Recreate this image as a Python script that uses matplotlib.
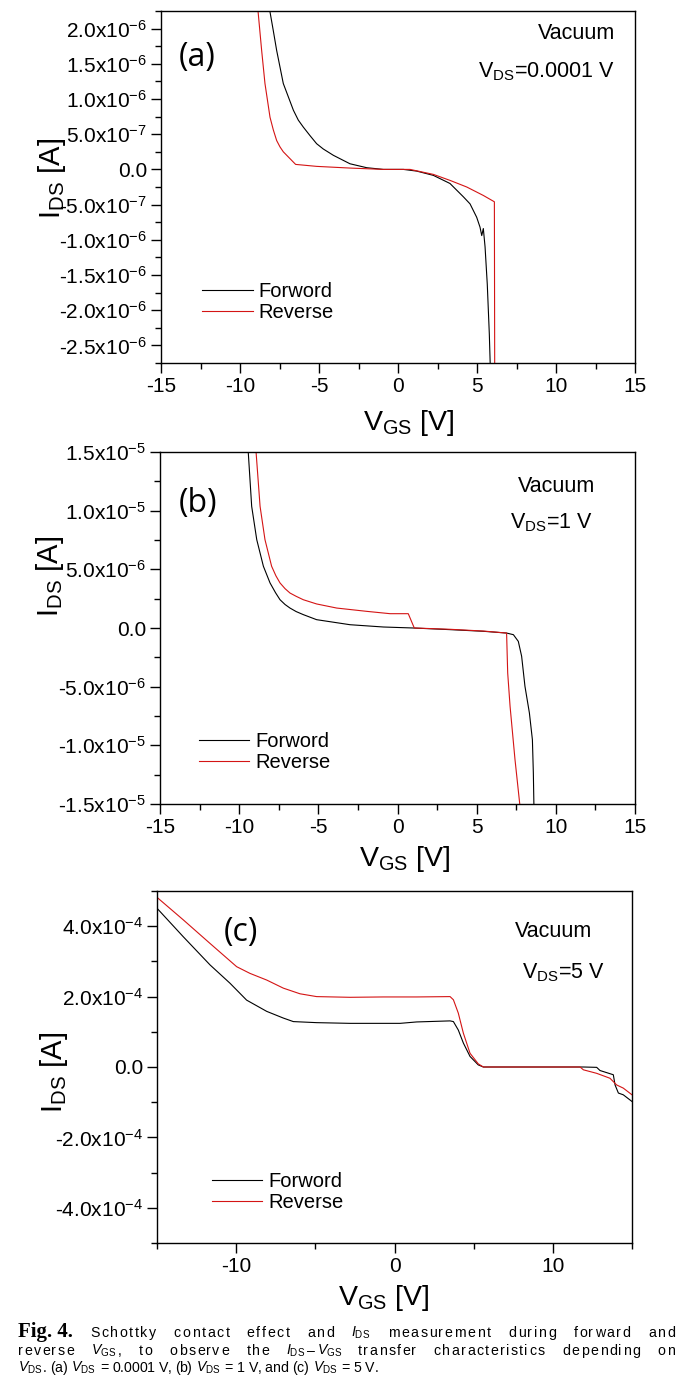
"""
    I_DS - V_GS transfer curves, forward and reverse sweeps (Fig. 4)
"""
import re
import numpy as np
import matplotlib.pyplot as plt
from matplotlib.ticker import MultipleLocator, FixedLocator, FixedFormatter

plt.rcParams['font.family'] = ['Liberation Sans', 'DejaVu Sans']
plt.rcParams['mathtext.fontset'] = 'custom'
plt.rcParams['mathtext.rm'] = 'Liberation Sans'
plt.rcParams['mathtext.it'] = 'Liberation Sans:italic'
plt.rcParams['mathtext.bf'] = 'Liberation Sans:bold'
plt.rcParams['axes.unicode_minus'] = False

# ---- data ----
# (a) VDS = 0.0001 V, current in 1e-6 A
va_fwd_v = [-8.15, -7.90, -7.68, -7.26, -6.94, -6.62, -6.31, -5.99, -5.57, -5.15, -4.73, -4.09,
            -3.04, -1.98, -0.93, 0.34, 1.18, 2.24, 3.29, 4.14, 4.56, 4.98, 5.19, 5.30, 5.40,
            5.51, 5.65, 5.78, 5.84]
va_fwd_i = [2.30, 1.98, 1.69, 1.22, 1.03, 0.84, 0.70, 0.60, 0.48, 0.365, 0.29, 0.20,
            0.08, 0.024, 0.0, 0.0, -0.024, -0.085, -0.20, -0.39, -0.49, -0.68, -0.82, -0.94, -0.84,
            -1.10, -1.63, -2.34, -2.80]
va_rev_v = [-8.88, -8.63, -8.42, -8.10, -7.89, -7.68, -7.47, -7.26, -6.48, -5.15, -3.04, -0.93,
            0.76, 2.24, 3.29, 4.35, 5.40, 6.10, 6.12]
va_rev_i = [2.30, 1.69, 1.22, 0.74, 0.56, 0.41, 0.32, 0.25, 0.071, 0.043, 0.019, 0.0,
            0.0, -0.071, -0.156, -0.25, -0.37, -0.46, -2.80]

# (b) VDS = 1 V, current in 1e-6 A
vb_fwd_v = [-9.45, -9.21, -8.89, -8.47, -8.05, -7.70, -7.42, -7.10, -6.79, -6.40, -5.95, -5.11,
            -3.0, -0.89, 1.0, 3.32, 5.42, 6.89, 7.32, 7.63, 7.84, 8.05, 8.33, 8.52, 8.58, 8.62]
vb_fwd_i = [15.5, 10.37, 7.53, 5.26, 3.84, 3.00, 2.41, 2.00, 1.70, 1.40, 1.14, 0.71,
            0.28, 0.085, 0.0, -0.14, -0.28, -0.43, -0.57, -1.14, -2.41, -4.97, -7.24, -9.52,
            -12.36, -15.5]
vb_rev_v = [-8.96, -8.68, -8.37, -7.95, -7.68, -7.42, -7.10, -6.79, -6.40, -5.95, -5.11, -3.84,
            -1.95, -0.47, 0.68, 1.06, 3.32, 5.42, 6.89, 6.96, 7.11, 7.42, 7.76]
vb_rev_i = [15.5, 10.37, 7.53, 5.26, 4.45, 3.84, 3.35, 2.98, 2.70, 2.41, 2.05, 1.70,
            1.42, 1.22, 1.22, 0.0, -0.11, -0.26, -0.43, -3.84, -6.68, -11.2, -15.5]

# (c) VDS = 5 V, current in 1e-4 A
vc_fwd_v = [-15, -13.34, -11.65, -10.39, -9.34, -8.07, -7.02, -6.39, -4.92, -2.81, -0.71, 0.35,
            1.40, 3.51, 3.72, 4.03, 4.35, 4.77, 5.29, 5.61, 7.72, 9.82, 11.93, 12.77, 12.98,
            13.82, 13.93, 14.14, 14.45, 15.0]
vc_fwd_i = [4.51, 3.70, 2.90, 2.38, 1.90, 1.58, 1.39, 1.29, 1.26, 1.24, 1.24, 1.24,
            1.28, 1.31, 1.29, 1.05, 0.68, 0.30, 0.06, 0.0, 0.0, 0.0, 0.0, -0.01, -0.10,
            -0.22, -0.51, -0.74, -0.79, -0.98]
vc_rev_v = [-15, -13.34, -11.65, -9.97, -9.13, -8.07, -7.02, -5.97, -4.92, -2.81, -0.71,
            1.40, 3.51, 3.72, 4.03, 4.35, 4.77, 5.29, 5.61, 11.72, 11.93, 12.77, 13.61,
            14.03, 14.45, 15.0]
vc_rev_i = [4.82, 4.18, 3.51, 2.85, 2.66, 2.47, 2.24, 2.08, 2.00, 1.98, 1.99,
            1.99, 2.00, 1.91, 1.53, 0.96, 0.39, 0.09, 0.0, 0.0, -0.08, -0.18, -0.32,
            -0.51, -0.60, -0.79]

# tick values and labels
a_yticks = [-2.5e-6, -2.0e-6, -1.5e-6, -1.0e-6, -5.0e-7, 0.0, 5.0e-7, 1.0e-6, 1.5e-6, 2.0e-6]
a_ylabels = ['-2.5x10$^{-6}$', '-2.0x10$^{-6}$', '-1.5x10$^{-6}$', '-1.0x10$^{-6}$', '-5.0x10$^{-7}$',
             '0.0', '5.0x10$^{-7}$', '1.0x10$^{-6}$', '1.5x10$^{-6}$', '2.0x10$^{-6}$']
b_yticks = [-1.5e-5, -1.0e-5, -5.0e-6, 0.0, 5.0e-6, 1.0e-5, 1.5e-5]
b_ylabels = ['-1.5x10$^{-5}$', '-1.0x10$^{-5}$', '-5.0x10$^{-6}$', '0.0',
             '5.0x10$^{-6}$', '1.0x10$^{-5}$', '1.5x10$^{-5}$']
c_yticks = [-4.0e-4, -2.0e-4, 0.0, 2.0e-4, 4.0e-4]
c_ylabels = ['-4.0x10$^{-4}$', '-2.0x10$^{-4}$', '0.0', '2.0x10$^{-4}$', '4.0x10$^{-4}$']
ab_xticks = [-15, -10, -5, 0, 5, 10, 15]
c_xticks = [-10, 0, 10]

FW = 689
FH = 1400
RED = '#d41414'
TICK_FS = 15


def fx(x):
    return x / FW


def fy(y):
    return 1 - y / FH


def make_axes(left, top, right, bottom):
    ax = fig.add_axes([fx(left), fy(bottom), (right - left) / FW, (bottom - top) / FH])
    for s in ax.spines.values():
        s.set_linewidth(1.0)
    ax.tick_params(which='both', direction='out', top=False, right=False, width=1.0,
                   labelsize=TICK_FS, pad=3)
    ax.tick_params(which='major', length=7)
    ax.tick_params(which='minor', length=4)
    return ax


def panel(ax, fv, fi, rv, ri, scale, legend_xy):
    ax.plot(fv, np.array(fi) * scale, color='black', lw=0.8, label='Forword')
    ax.plot(rv, np.array(ri) * scale, color=RED, lw=0.8, label='Reverse')
    ax.set_xlim(-15, 15)
    ax.legend(loc='upper left', bbox_to_anchor=legend_xy, frameon=False, borderpad=0,
              borderaxespad=0, handlelength=2.5, handletextpad=0.3, labelspacing=0.12,
              fontsize=14.5)


fig = plt.figure(figsize=(FW / 100, FH / 100), dpi=100)

# ---- (a) ----
ax_a = make_axes(161, 11, 635, 363)
panel(ax_a, va_fwd_v, va_fwd_i, va_rev_v, va_rev_i, 1e-6, (0.087, 0.230))
ax_a.set_ylim(-2.75e-6, 2.25e-6)
ax_a.yaxis.set_major_locator(FixedLocator(a_yticks))
ax_a.yaxis.set_major_formatter(FixedFormatter(a_ylabels))
ax_a.yaxis.set_minor_locator(MultipleLocator(2.5e-7))
ax_a.xaxis.set_major_locator(FixedLocator(ab_xticks))
ax_a.xaxis.set_minor_locator(MultipleLocator(2.5))
ax_a.text(0.076, 0.869, '(a)', transform=ax_a.transAxes, ha='center', va='center',
          fontsize=23, family=['Open Sans', 'DejaVu Sans'])
ax_a.text(0.958, (363 - 39) / 352, 'Vacuum', transform=ax_a.transAxes, ha='right',
          va='baseline', fontsize=15.5)
ax_a.text(0.958, (363 - 77) / 352, r'V$_{\mathrm{DS}}$=0.0001 V', transform=ax_a.transAxes,
          ha='right', va='baseline', fontsize=15.5)

# ---- (b) ----
ax_b = make_axes(160, 452, 635, 804)
panel(ax_b, vb_fwd_v, vb_fwd_i, vb_rev_v, vb_rev_i, 1e-6, (0.082, 0.2045))
ax_b.set_ylim(-1.5e-5, 1.5e-5)
ax_b.yaxis.set_major_locator(FixedLocator(b_yticks))
ax_b.yaxis.set_major_formatter(FixedFormatter(b_ylabels))
ax_b.yaxis.set_minor_locator(MultipleLocator(2.5e-6))
ax_b.xaxis.set_major_locator(FixedLocator(ab_xticks))
ax_b.xaxis.set_minor_locator(MultipleLocator(2.5))
ax_b.text(0.080, 0.855, '(b)', transform=ax_b.transAxes, ha='center', va='center',
          fontsize=23, family=['Open Sans', 'DejaVu Sans'])
ax_b.text((557 - 160) / 475, (804 - 492) / 352, 'Vacuum', transform=ax_b.transAxes,
          ha='center', va='baseline', fontsize=15.5)
ax_b.text((551 - 160) / 475, (804 - 528) / 352, r'V$_{\mathrm{DS}}$=1 V', transform=ax_b.transAxes,
          ha='center', va='baseline', fontsize=15.5)

# ---- (c) ----
ax_c = make_axes(157, 891, 632, 1243)
panel(ax_c, vc_fwd_v, vc_fwd_i, vc_rev_v, vc_rev_i, 1e-4, (0.116, 0.2017))
ax_c.set_ylim(-5e-4, 5e-4)
ax_c.yaxis.set_major_locator(FixedLocator(c_yticks))
ax_c.yaxis.set_major_formatter(FixedFormatter(c_ylabels))
ax_c.yaxis.set_minor_locator(MultipleLocator(1e-4))
ax_c.xaxis.set_major_locator(FixedLocator(c_xticks))
ax_c.xaxis.set_minor_locator(MultipleLocator(5))
ax_c.text(0.177, 0.881, '(c)', transform=ax_c.transAxes, ha='center', va='center',
          fontsize=23, family=['Open Sans', 'DejaVu Sans'])
ax_c.text((554 - 157) / 475, (1243 - 937) / 352, 'Vacuum', transform=ax_c.transAxes,
          ha='center', va='baseline', fontsize=15.5)
ax_c.text((563 - 157) / 475, (1243 - 978) / 352, r'V$_{\mathrm{DS}}$=5 V', transform=ax_c.transAxes,
          ha='center', va='baseline', fontsize=15.5)

# axis titles
ylab = r'I$_{\mathrm{DS}}$ [A]'
xlab = r'V$_{\mathrm{GS}}$ [V]'
for (x, y) in [(52, 178), (50, 576), (54, 1072)]:
    fig.text(fx(x), fy(y), ylab, rotation=90, ha='center', va='center', fontsize=21)
for (x, y) in [(409, 430), (405, 866), (384, 1305)]:
    fig.text(fx(x), fy(y), xlab, ha='center', va='baseline', fontsize=20.5)

# ---- caption, justified (word and a little letter spacing) like the journal text ----
renderer = fig.canvas.get_renderer()
CAP_FS = 10.2
X0, X1 = 18, 675


def measure(s, **kw):
    t = fig.text(0, 0, s, **kw)
    w = t.get_window_extent(renderer).width
    t.remove()
    return w


def place_line(words, y, justify=True):
    space = measure('a a', fontsize=CAP_FS) - measure('aa', fontsize=CAP_FS)
    items = []
    for w in words:
        if isinstance(w, tuple):
            text, kw = w[0], dict(w[1])
            units = [text]
        else:
            text, kw = w, dict(fontsize=CAP_FS)
            units = re.findall(r'\$[^$]*\$|.', text)
        offs = [measure(''.join(units[:k]), **kw) if k else 0.0 for k in range(len(units))]
        items.append((units, offs, measure(text, **kw), kw))
    n_letter = sum(len(it[0]) - 1 for it in items)
    total = sum(it[2] for it in items)
    if justify:
        word_gap = 4.5 * space
        extra = max(0.0, (X1 - X0 - total - word_gap * (len(items) - 1)) / n_letter)
    else:
        word_gap = space
        extra = 0.0
    x = X0
    for units, offs, width, kw in items:
        for k, (u, o) in enumerate(zip(units, offs)):
            fig.text(fx(x + o + k * extra), fy(y), u, va='baseline', **kw)
        x += width + (len(units) - 1) * extra + word_gap


bold_serif = dict(fontsize=15, family=['Liberation Serif', 'DejaVu Serif'], weight='bold')
line1 = [('Fig. 4.', bold_serif), 'Schottky', 'contact', 'effect', 'and', r'$I_{\mathrm{DS}}$',
         'measurement', 'during', 'forward', 'and']
line2 = ['reverse', r'$V_{\mathrm{GS}}$,', 'to', 'observe', 'the',
         r'$I_{\mathrm{DS}}$' + '\u2013' + r'$V_{\mathrm{GS}}$', 'transfer', 'characteristics',
         'depending', 'on']
line3 = [r'$V_{\mathrm{DS}}$.', '(a)', r'$V_{\mathrm{DS}}$', '=', '0.0001', 'V,', '(b)',
         r'$V_{\mathrm{DS}}$', '=', '1', 'V,', 'and', '(c)', r'$V_{\mathrm{DS}}$', '=', '5', 'V.']
place_line(line1, 1337)
place_line(line2, 1355)
place_line(line3, 1372, justify=False)

fig.savefig('out.png', dpi=100)
